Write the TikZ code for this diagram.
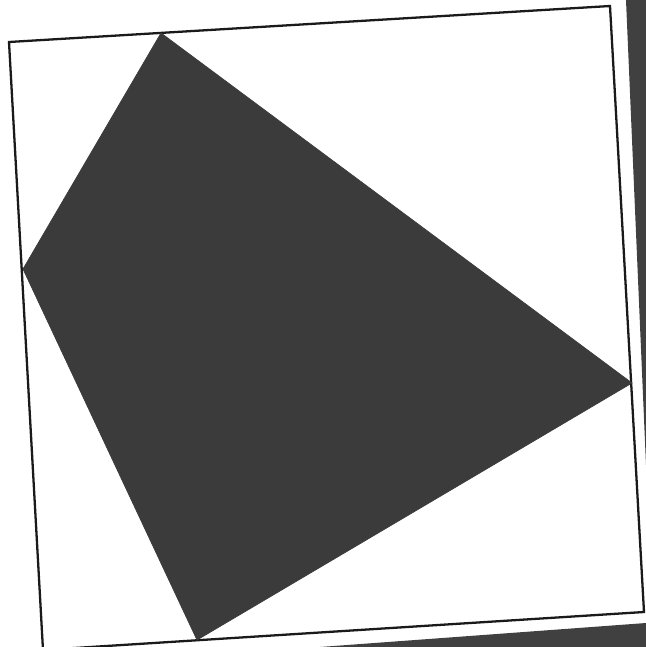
\documentclass[tikz,border=0pt]{standalone}
\usepackage{tikz}
\definecolor{ink}{HTML}{1A1A1A}
\definecolor{slate}{HTML}{3B3B3B}
\definecolor{scanbg}{HTML}{404040}

\begin{document}
\begin{tikzpicture}[
  x=0.02cm,y=-0.02cm,
  frame/.style={draw=ink,line width=1.3pt,line join=miter},
  quad/.style={fill=slate,draw=slate,line width=.4pt,line join=round},
  scan/.style={fill=scanbg,draw=none}
]
\useasboundingbox (0,0) rectangle (646,647);

% scanner background along right and bottom edges
\fill[scan] (626,0) -- (646,0) -- (646,465) -- cycle;
\fill[scan] (320,647) -- (646,623) -- (646,647) -- cycle;

% outer square
\coordinate (tl) at (9,42);
\coordinate (tr) at (610,6);
\coordinate (br) at (644,612);
\coordinate (bl) at (43,650);
\draw[frame] (tl) -- (tr) -- (br) -- (bl) -- cycle;

% inscribed quadrilateral
\coordinate (top) at (161,33);
\coordinate (left) at (23,269);
\coordinate (right) at (632,383);
\coordinate (bottom) at (197,640);
\filldraw[quad] (top) -- (right) -- (bottom) -- (left) -- cycle;
\end{tikzpicture}
\end{document}
